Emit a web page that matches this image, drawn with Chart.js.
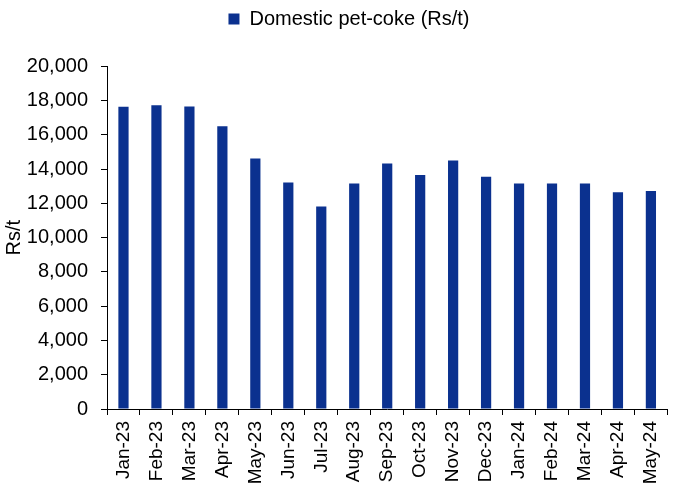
<!DOCTYPE html>
<html>
<head>
<meta charset="utf-8">
<script src="https://cdn.jsdelivr.net/npm/chart.js@4"></script>
<style>
  html, body { margin: 0; padding: 0; background: #fff; }
  .wrap { width: 680px; height: 484px; }
</style>
</head>
<body>
<div class="wrap"><canvas class="petcoke-chart"></canvas></div>
<script>
const months = ['Jan-23', 'Feb-23', 'Mar-23', 'Apr-23', 'May-23', 'Jun-23', 'Jul-23', 'Aug-23',
    'Sep-23', 'Oct-23', 'Nov-23', 'Dec-23', 'Jan-24', 'Feb-24', 'Mar-24', 'Apr-24', 'May-24'];
const petcoke = [17630, 17720, 17650, 16500, 14620, 13220, 11820, 13160,
    14330, 13650, 14500, 13550, 13160, 13160, 13160, 12640, 12720];
const yTicks = [0, 2000, 4000, 6000, 8000, 10000, 12000, 14000, 16000, 18000, 20000];

const ctx = document.querySelector('.petcoke-chart');
Chart.defaults.font.family = '"Liberation Sans", Arial, sans-serif';
Chart.defaults.color = '#000';

// nudge legend a bit to the right like the original
const legendShift = {
    id: 'legendShift',
    afterLayout(chart) {
        const lg = chart.legend;
        lg.left += 14;
        lg.right += 14;
    }
};

new Chart(ctx, {
    type: 'bar',
    data: {
        labels: months,
        datasets: [{
            label: 'Domestic pet-coke (Rs/t)',
            data: petcoke,
            backgroundColor: '#0B318F',
            borderWidth: 0,
            barPercentage: 0.31,
            categoryPercentage: 1
        }]
    },
    options: {
        responsive: true,
        maintainAspectRatio: false,
        animation: false,
        layout: {
            padding: { left: 0, right: 10, top: 5, bottom: 0 }
        },
        scales: {
            x: {
                offset: true,
                grid: {
                    offset: true,
                    drawOnChartArea: false,
                    drawTicks: true,
                    tickLength: 6,
                    color: '#000'
                },
                border: { display: true, color: '#000', width: 1 },
                ticks: {
                    minRotation: 90,
                    maxRotation: 90,
                    autoSkip: false,
                    padding: 6,
                    font: { size: 19 }
                },
                afterFit(scale) { scale.height = 75; }
            },
            y: {
                min: 0,
                max: 20000,
                afterBuildTicks(scale) {
                    scale.ticks = yTicks.map(v => ({ value: v }));
                },
                grid: {
                    drawOnChartArea: false,
                    drawTicks: true,
                    tickLength: 6,
                    color: '#000'
                },
                border: { display: true, color: '#000', width: 1 },
                ticks: {
                    padding: 13,
                    font: { size: 20 },
                    callback: v => v.toLocaleString('en-US')
                },
                title: {
                    display: true,
                    text: 'Rs/t',
                    font: { size: 20 },
                    padding: { top: 2, bottom: 0 }
                },
                afterFit(scale) { scale.width = 107; }
            }
        },
        plugins: {
            legend: {
                display: true,
                position: 'top',
                labels: {
                    boxWidth: 11,
                    boxHeight: 11,
                    padding: 4,
                    font: { size: 20 },
                    color: '#000'
                }
            },
            subtitle: {
                display: true,
                text: '',
                weight: 500,
                font: { size: 1 },
                padding: { top: 13, bottom: 13 }
            },
            tooltip: { enabled: false }
        }
    },
    plugins: [legendShift]
});
</script>
</body>
</html>
